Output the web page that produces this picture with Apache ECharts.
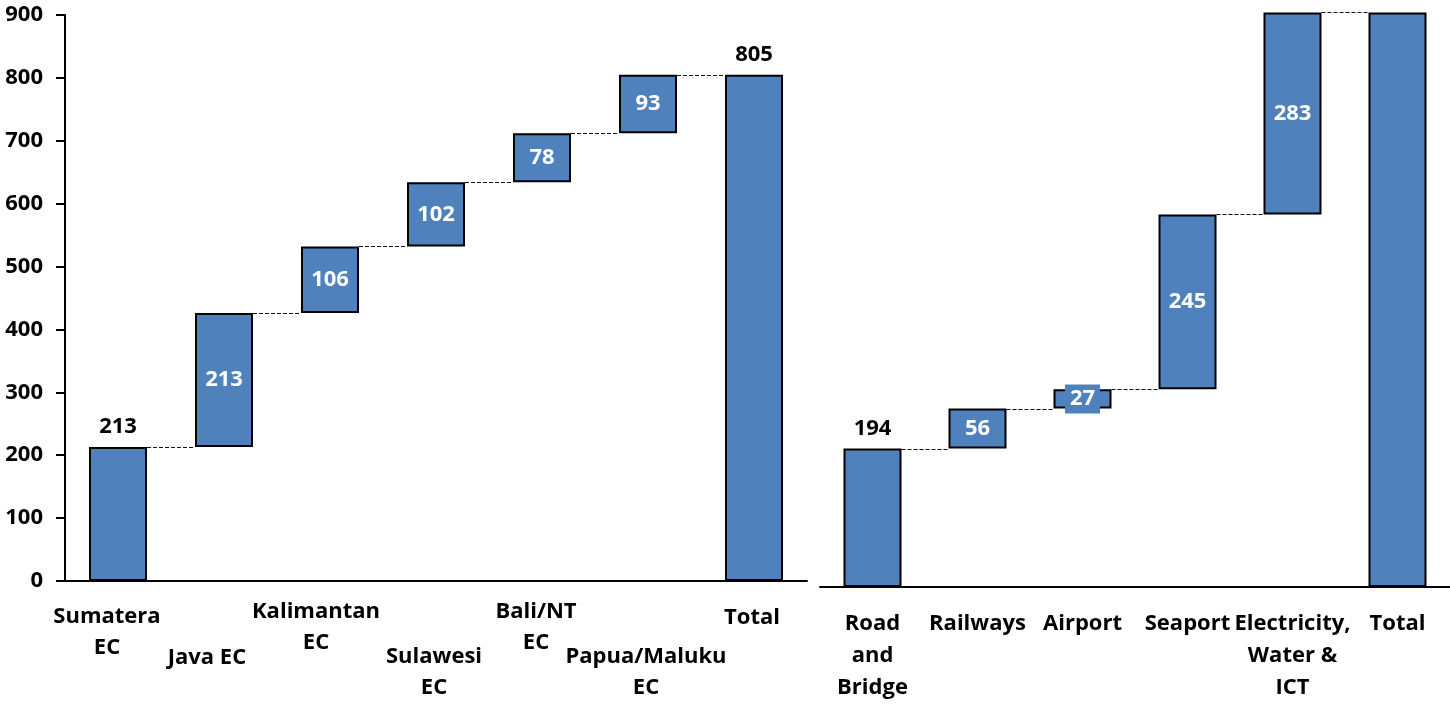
<!DOCTYPE html>
<html>
<head>
<meta charset="utf-8">
<script src="https://cdn.jsdelivr.net/npm/echarts@6/dist/echarts.min.js"></script>
<style>
html,body{margin:0;padding:0;background:#fff;}
#chart{width:1450px;height:707px;}
</style>
</head>
<body>
<div id="chart"></div>
<script>
// ---- data ----
const leftCategories = ['Sumatera\nEC','Java EC','Kalimantan\nEC','Sulawesi\nEC','Bali/NT\nEC','Papua/Maluku\nEC','Total'];
const leftValues = [213, 213, 106, 102, 78, 93, 805];
const leftIsTotal = [false, false, false, false, false, false, true];
const leftTicks = [0, 100, 200, 300, 400, 500, 600, 700, 800, 900];

const rightCategories = ['Road\nand\nBridge','Railways','Airport','Seaport','Electricity,\nWater &\nICT','Total'];
const rightValues = [194, 56, 27, 245, 283, 805];
const rightIsTotal = [false, false, false, false, false, true];

// ---- styling helpers ----
const FONT = '"Open Sans", "Noto Sans", sans-serif';
const BLUE = '#4F81BD';
const BAR_W = 58;

function waterfall(values, isTotal) {
  const base = [], levels = [];
  let run = 0;
  values.forEach((v, i) => {
    if (isTotal[i]) { base.push(0); run = v; }
    else { base.push(run); run += v; }
    levels.push(run);
  });
  return { base, levels };
}

const L = waterfall(leftValues, leftIsTotal);
const R = waterfall(rightValues, rightIsTotal);

// left label layout (vertical spacer, horizontal shift) per category
const leftSpacer = [20, 61, 15, 60, 15, 60, 21];
const leftShift = [11, 17, 14, 2, 6, 2, 2];
const leftRich = {};
leftCategories.forEach((c, i) => {
  leftRich['s' + i] = { fontSize: 1, lineHeight: leftSpacer[i] };
  leftRich['t' + i] = {
    fontSize: 22, fontWeight: 'bold', fontFamily: FONT, color: '#000',
    lineHeight: 31, padding: [0, 2 * leftShift[i], 0, 0]
  };
});

function labelFor(i, topIdx, noneIdx) {
  if (noneIdx.includes(i)) return { show: false };
  if (topIdx.includes(i)) {
    return { show: true, position: 'top', distance: 9, color: '#000',
      fontSize: 22, fontWeight: 'bold', fontFamily: FONT };
  }
  return { show: true, position: 'inside', color: '#fff',
    fontSize: 22, fontWeight: 'bold', fontFamily: FONT };
}

function valueData(values, topIdx, noneIdx, special) {
  return values.map((v, i) => {
    const lab = labelFor(i, topIdx, noneIdx);
    if (special && special[i]) Object.assign(lab, special[i]);
    return { value: v, label: lab };
  });
}

function connectorData(levels) {
  const d = [];
  for (let i = 0; i < levels.length - 1; i++) d.push([i, levels[i]]);
  return d;
}

function connectorRender(params, api) {
  const i = api.value(0), lv = api.value(1);
  const p0 = api.coord([i, lv]);
  const p1 = api.coord([i + 1, lv]);
  const y = Math.round(p0[1]) + 0.5;
  return {
    type: 'line',
    shape: { x1: p0[0] + BAR_W / 2, y1: y, x2: p1[0] - BAR_W / 2, y2: y },
    style: { stroke: '#111', lineWidth: 1, lineDash: [4, 2] },
    silent: true
  };
}

const chart = echarts.init(document.getElementById('chart'), null, { renderer: 'canvas' });

const option = {
  animation: false,
  backgroundColor: '#fff',
  grid: [
    { left: 65, top: 15, width: 742, height: 566 },
    { left: 820, top: 12.4, width: 632, height: 574.6 }
  ],
  xAxis: [
    {
      type: 'category', gridIndex: 0, data: leftCategories,
      axisLine: { show: true, lineStyle: { color: '#000', width: 2 } },
      axisTick: { show: false },
      axisLabel: {
        interval: 0, margin: 0,
        formatter: (val, idx) => {
          const lines = val.split('\n');
          return '{s' + idx + '| }\n' + lines.map(l => '{t' + idx + '|' + l + '}').join('\n');
        },
        rich: leftRich
      }
    },
    {
      type: 'category', gridIndex: 1, data: rightCategories,
      axisLine: { show: true, lineStyle: { color: '#000', width: 2 } },
      axisTick: { show: false },
      axisLabel: {
        interval: 0, margin: 21, color: '#000', fontSize: 22, fontWeight: 'bold',
        fontFamily: FONT, lineHeight: 32
      }
    }
  ],
  yAxis: [
    {
      type: 'value', gridIndex: 0, min: leftTicks[0], max: leftTicks[leftTicks.length - 1],
      interval: leftTicks[1] - leftTicks[0],
      axisLine: { show: true, lineStyle: { color: '#000', width: 2 } },
      axisTick: { show: true, length: 9, lineStyle: { color: '#000', width: 2 } },
      splitLine: { show: false },
      axisLabel: { margin: 22, color: '#000', fontSize: 22, fontWeight: 'bold', fontFamily: FONT }
    },
    {
      type: 'value', gridIndex: 1, min: 0, max: rightValues[rightValues.length - 1],
      show: false, splitLine: { show: false }
    }
  ],
  series: [
    {
      type: 'bar', xAxisIndex: 0, yAxisIndex: 0, stack: 'L', barWidth: BAR_W,
      data: L.base, itemStyle: { color: 'transparent' }, silent: true,
      emphasis: { disabled: true }
    },
    {
      type: 'bar', xAxisIndex: 0, yAxisIndex: 0, stack: 'L', barWidth: BAR_W,
      data: valueData(leftValues, [0, 6], []),
      itemStyle: { color: BLUE, borderColor: '#000', borderWidth: 2 },
      emphasis: { disabled: true }
    },
    {
      type: 'custom', xAxisIndex: 0, yAxisIndex: 0, data: connectorData(L.levels),
      encode: { x: 0, y: 1 }, renderItem: connectorRender, silent: true, z: 1
    },
    {
      type: 'bar', xAxisIndex: 1, yAxisIndex: 1, stack: 'R', barWidth: BAR_W,
      data: R.base, itemStyle: { color: 'transparent' }, silent: true,
      emphasis: { disabled: true }
    },
    {
      type: 'bar', xAxisIndex: 1, yAxisIndex: 1, stack: 'R', barWidth: BAR_W,
      data: valueData(rightValues, [0], [5],
        { 2: { backgroundColor: BLUE, padding: [4, 5, 3, 5] } }),
      itemStyle: { color: BLUE, borderColor: '#000', borderWidth: 2 },
      emphasis: { disabled: true }
    },
    {
      type: 'custom', xAxisIndex: 1, yAxisIndex: 1, data: connectorData(R.levels),
      encode: { x: 0, y: 1 }, renderItem: connectorRender, silent: true, z: 1
    }
  ]
};

chart.setOption(option);
</script>
</body>
</html>
